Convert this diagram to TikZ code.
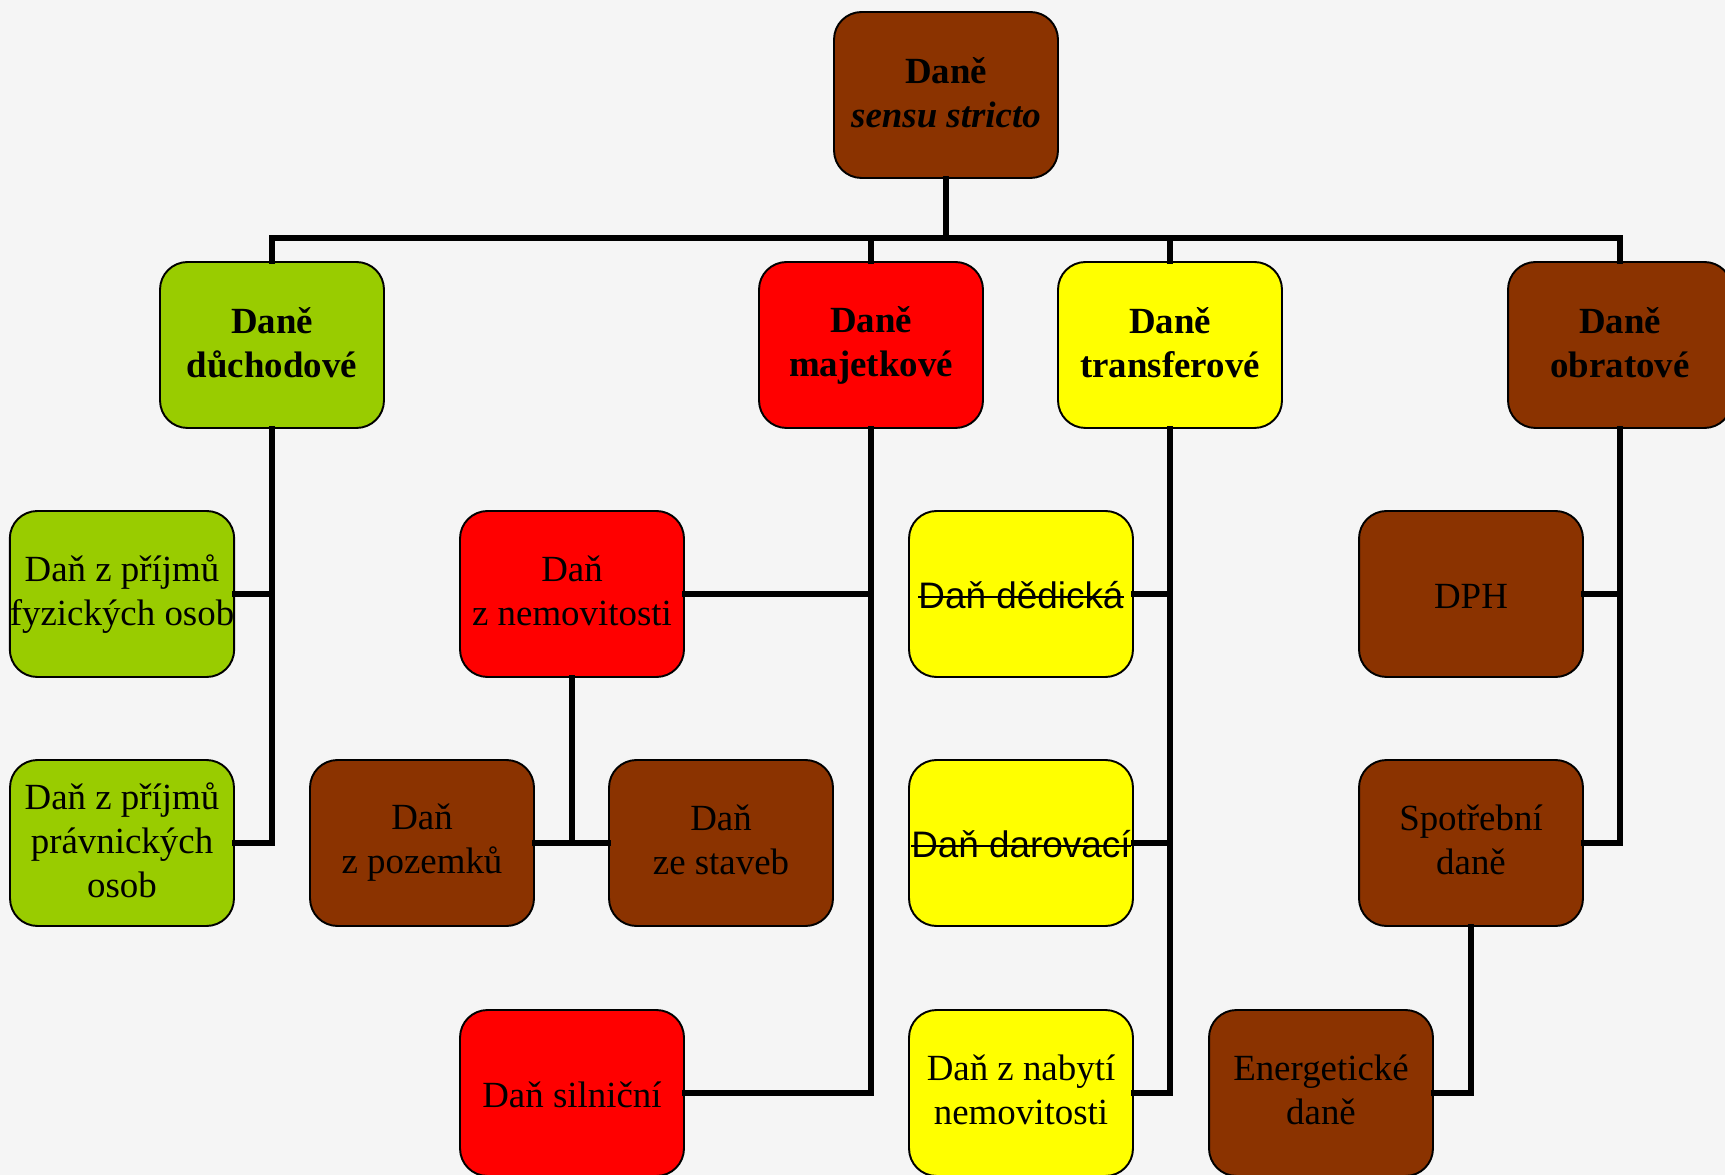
\documentclass[tikz,border=0pt]{standalone}
\usepackage{fontspec}
\setmainfont{Liberation Serif}
\newfontfamily\arialfont{Liberation Sans}
\usetikzlibrary{positioning}
\definecolor{zelena}{RGB}{153,204,0}
\definecolor{cervena}{RGB}{255,0,0}
\definecolor{zluta}{RGB}{255,255,0}
\definecolor{hneda}{RGB}{139,51,0}
\definecolor{pozadi}{RGB}{245,245,245}
\newcommand{\skrt}[1]{\leavevmode\setbox0=\hbox{#1}\rlap{\vrule height 0.32em depth -0.26em width \wd0}\box0}
\newcommand{\hore}{\rule{0pt}{31.4pt}}
\newcommand{\dole}{\rule[-3.3pt]{0pt}{3.3pt}}
\tikzset{
    box/.style={draw, rounded corners=0.55cm, minimum width=4.48cm, minimum height=3.32cm,
        line width=1.1pt, align=center, inner sep=0pt, font=\fontsize{21}{25}\selectfont,
        execute at begin node=\hore, execute at end node=\dole},
    head/.style={box, font=\fontsize{21}{25}\selectfont\bfseries},
    jeden/.style={execute at end node=\rule[-15.4pt]{0pt}{15.4pt}},
    conn/.style={line width=3.2pt, line cap=rect},
}

\begin{document}
\begin{tikzpicture}[x=0.02cm, y=-0.02cm]
    \clip (0,0) rectangle (1725,1175);
    \fill[pozadi] (0,0) rectangle (1725,1175);

    \node[head, fill=hneda] (root) at (946, 95) {Daně\\\textit{sensu stricto}};

    \node[head, fill=zelena] (dd) at (272, 345) {Daně\\důchodové};
    \node[head, fill=cervena] (mj) at (871, 345) {Daně\\majetkové};
    \node[head, fill=zluta] (tr) at (1170, 345) {Daně\\transferové};
    \node[head, fill=hneda] (ob) at (1620, 345) {Daně\\obratové};
    \coordinate (bus) at (946, 238);

    \node[box, fill=zelena] (fo) at (122, 594) {Daň z příjmů\\fyzických osob};
    \node[box, fill=zelena] (po) at (122, 843) {Daň z příjmů\\právnických\\osob};

    \node[box, fill=cervena] (nem) at (572, 594) {Daň\\z nemovitosti};
    \node[box, fill=hneda] (poz) at (422, 843) {Daň\\z pozemků};
    \node[box, fill=hneda] (stav) at (721, 843) {Daň\\ze staveb};
    \node[box, jeden, fill=cervena] (sil) at (572, 1093) {Daň silniční};

    \node[box, jeden, fill=zluta] (ded) at (1021, 594) {\arialfont\skrt{Daň dědická}};
    \node[box, jeden, fill=zluta] (dar) at (1021, 843) {\arialfont\skrt{Daň darovací}};
    \node[box, fill=zluta] (nab) at (1021, 1093) {Daň z nabytí\\nemovitosti};

    \node[box, jeden, fill=hneda] (dph) at (1471, 594) {DPH};
    \node[box, fill=hneda] (spd) at (1471, 843) {Spotřební\\daně};
    \node[box, fill=hneda] (en) at (1321, 1093) {Energetické\\daně};

    \draw[conn] (root) -- (bus);
    \draw[conn] (bus) -| (dd);
    \draw[conn] (bus) -| (mj);
    \draw[conn] (bus) -| (tr);
    \draw[conn] (bus) -| (ob);

    \draw[conn] (dd.south) |- (fo.east);
    \draw[conn] (dd.south) |- (po.east);
    \draw[conn] (mj.south) |- (nem.east);
    \draw[conn] (mj.south) |- (sil.east);
    \draw[conn] (nem.south) |- (poz.east);
    \draw[conn] (nem.south) |- (stav.west);
    \draw[conn] (tr.south) |- (ded.east);
    \draw[conn] (tr.south) |- (dar.east);
    \draw[conn] (tr.south) |- (nab.east);
    \draw[conn] (ob.south) |- (dph.east);
    \draw[conn] (ob.south) |- (spd.east);
    \draw[conn] (spd.south) |- (en.east);
\end{tikzpicture}
\end{document}
